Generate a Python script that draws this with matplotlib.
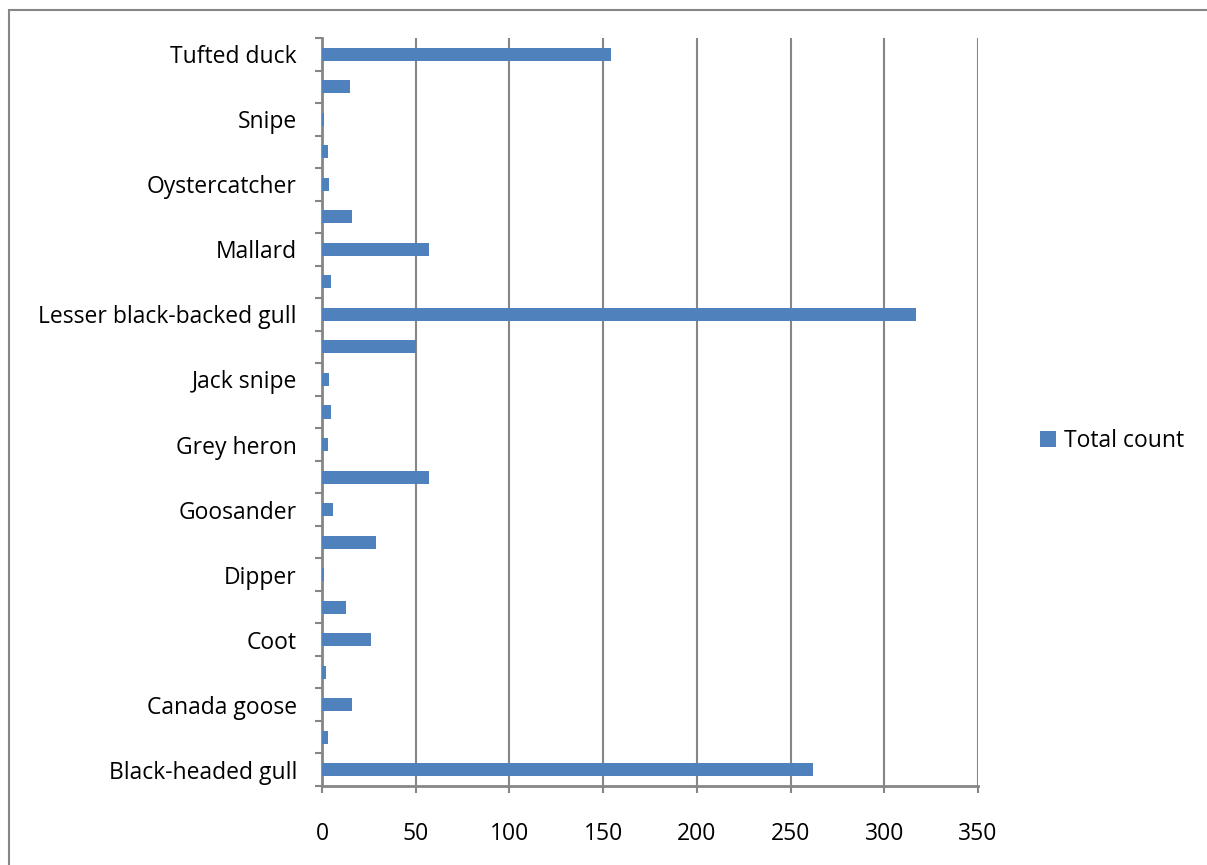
import matplotlib.pyplot as plt
from matplotlib.patches import Rectangle

# --- DATA (bottom to top, alphabetical) ---
species = [
    "Black-headed gull", "Buzzard", "Canada goose", "Common sandpiper",
    "Coot", "Cormorant", "Dipper", "Gadwall", "Goosander",
    "Great crested grebe", "Grey heron", "Grey wagtail", "Jack snipe",
    "Kingfisher", "Lesser black-backed gull", "Little grebe", "Mallard",
    "Moorhen", "Oystercatcher", "Pochard", "Snipe", "Teal", "Tufted duck",
]
total_count = [262, 3, 16, 2, 26, 13, 1, 29, 6, 57, 3, 5, 4, 50,
               317, 5, 57, 16, 4, 3, 1, 15, 154]
x_ticks = [0, 50, 100, 150, 200, 250, 300, 350]

BAR_COLOR = "#4F81BD"
GRID_COLOR = "#868686"
FS = 16.5

plt.rcParams['font.family'] = ['Open Sans', 'DejaVu Sans']

W, H = 1207, 865
fig = plt.figure(figsize=(W / 100, H / 100), dpi=100)
ax = fig.add_axes([322 / W, 1 - 786 / H, (978 - 322) / W, (786 - 38) / H])

pos = list(range(len(species)))
ax.barh(pos, total_count, height=0.4, color=BAR_COLOR, label="Total count", zorder=3)

ax.set_xlim(0, 350)
ax.set_ylim(-0.5, len(species) - 0.5)

# Etykiety co druga kategoria (reszta sie nie miesci)
ax.set_yticks(pos)
ax.set_yticklabels([s if i % 2 == 0 else "" for i, s in enumerate(species)], fontsize=FS)
ax.tick_params(axis='y', which='major', length=0, pad=18)
ax.set_yticks([p - 0.5 for p in pos] + [len(species) - 0.5], minor=True)
ax.tick_params(axis='y', which='minor', length=5, width=1.5, color=GRID_COLOR, direction='out')

ax.set_xticks(x_ticks)
ax.set_xticklabels([str(t) for t in x_ticks], fontsize=FS)
ax.tick_params(axis='x', length=5, width=1.5, color=GRID_COLOR, pad=21)

ax.grid(True, axis='x', color=GRID_COLOR, linewidth=1.5, zorder=0)
for side in ['top', 'right']:
    ax.spines[side].set_visible(False)
for side in ['left', 'bottom']:
    ax.spines[side].set_color(GRID_COLOR)
    ax.spines[side].set_linewidth(2)

fig.legend(loc='center left', bbox_to_anchor=(1040 / W, 1 - 441 / H), frameon=False,
           fontsize=FS, handlelength=0.7, handleheight=0.7, handletextpad=0.35,
           borderpad=0, borderaxespad=0)

# Ramka wykresu (obcieta z prawej i od dolu)
fig.add_artist(Rectangle((8.5 / W, -0.1), 1.2, 1.1 - 9.5 / H, transform=fig.transFigure,
                         fill=False, edgecolor=GRID_COLOR, linewidth=1.5))

fig.savefig("out.png", dpi=100)
